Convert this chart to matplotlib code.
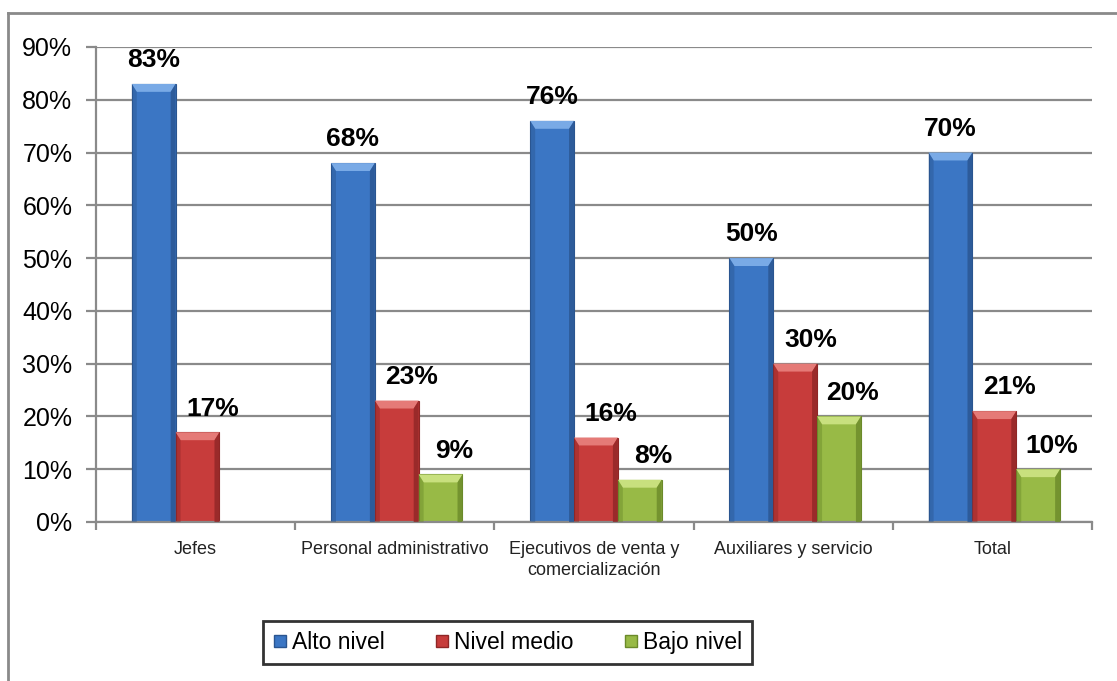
import numpy as np
import matplotlib
matplotlib.use('Agg')
import matplotlib.pyplot as plt
from matplotlib.patches import Polygon
from matplotlib.lines import Line2D

# niveles por grupo de cargo
categorias = ['Jefes', 'Personal administrativo',
              'Ejecutivos de venta y\ncomercialización',
              'Auxiliares y servicio', 'Total']
series = ['Alto nivel', 'Nivel medio', 'Bajo nivel']
alto = [83, 68, 76, 50, 70]
medio = [17, 23, 16, 30, 21]
bajo = [np.nan, 9, 8, 20, 10]
yticks = [0, 10, 20, 30, 40, 50, 60, 70, 80, 90]

# colores: cuerpo, bisel claro, borde oscuro
colores = {
    'Alto nivel': ('#3b76c4', '#79aae6', '#2a5590'),
    'Nivel medio': ('#c73c3b', '#e57a77', '#8f2626'),
    'Bajo nivel': ('#98ba46', '#c8e07e', '#6b8a2a'),
}
desp_etiqueta = {'Alto nivel': 0, 'Nivel medio': 11, 'Bajo nivel': 10}

plt.rcParams['font.family'] = ['Liberation Sans', 'DejaVu Sans']

fig = plt.figure(figsize=(11.17, 6.81), dpi=100)
ax = fig.add_axes([0.0859, 0.2335, 0.8917, 0.6975])

x = np.arange(len(categorias))
ancho = 0.22
gris = '#8a8a8a'


def bisel(ax, barra, c_claro, c_oscuro):
    # caras del bisel a partir del rectangulo de la barra
    x0 = barra.get_x()
    w = barra.get_width()
    h = barra.get_height()
    if not np.isfinite(h) or h <= 0:
        return
    dx = 0.025
    dy = min(1.5, h / 4)
    x1 = x0 + w
    arriba = Polygon([(x0, h), (x1, h), (x1 - dx, h - dy), (x0 + dx, h - dy)],
                     closed=True, facecolor=c_claro, edgecolor='none', zorder=3)
    izq = Polygon([(x0, 0), (x0, h), (x0 + dx, h - dy), (x0 + dx, 0)],
                  closed=True, facecolor=c_oscuro, edgecolor='none', alpha=0.45, zorder=3)
    der = Polygon([(x1, 0), (x1, h), (x1 - dx, h - dy), (x1 - dx, 0)],
                  closed=True, facecolor=c_oscuro, edgecolor='none', alpha=0.8, zorder=3)
    ax.add_patch(arriba)
    ax.add_patch(izq)
    ax.add_patch(der)


for k, (nombre, valores) in enumerate(zip(series, [alto, medio, bajo])):
    cuerpo, claro, oscuro = colores[nombre]
    barras = ax.bar(x + (k - 1) * ancho + 0.01, valores, ancho, color=cuerpo,
                    edgecolor=oscuro, linewidth=0.8, zorder=2, label=nombre)
    for b, v in zip(barras, valores):
        bisel(ax, b, claro, oscuro)
        if np.isfinite(v):
            ax.annotate(f'{v:.0f}%', (b.get_x() + b.get_width() / 2, v),
                        xytext=(desp_etiqueta[nombre], 12), textcoords='offset points',
                        ha='center', va='baseline', fontsize=19, fontweight='bold',
                        zorder=5)

ax.set_xlim(-0.5, len(categorias) - 0.5)
ax.set_ylim(0, 90)
ax.set_yticks(yticks)
ax.set_yticklabels([f'{t}%' for t in yticks], fontsize=18)
ax.yaxis.grid(True, color=gris, linewidth=1.6, zorder=0)
ax.set_axisbelow(True)

ax.set_xticks(x)
ax.set_xticklabels(categorias, fontsize=13, color='#222222', linespacing=1.3)
ax.set_xticks(np.arange(len(categorias) + 1) - 0.5, minor=True)
ax.tick_params(axis='x', which='major', length=0, pad=14)
ax.tick_params(axis='x', which='minor', length=6, width=1.6, color=gris, direction='out')
ax.tick_params(axis='y', length=7, width=1.6, color=gris, direction='out', pad=10)

for lado in ['top', 'right']:
    ax.spines[lado].set_visible(False)
for lado in ['left', 'bottom']:
    ax.spines[lado].set_color(gris)
    ax.spines[lado].set_linewidth(1.6)

# leyenda con marco negro
marcadores = [Line2D([0], [0], marker='s', linestyle='none', markersize=8,
                     markerfacecolor=colores[s][0], markeredgecolor=colores[s][2])
              for s in series]
leg = fig.legend(marcadores, series, loc='center',
                 bbox_to_anchor=(263 / 1117, 1 - 667 / 681, 489 / 1117, 49 / 681),
                 mode='expand', ncol=3, fontsize=16.5, frameon=True, fancybox=False,
                 handlelength=0.6, handletextpad=0.2, columnspacing=1.5,
                 borderpad=0.45, borderaxespad=0)
leg.get_frame().set_edgecolor('black')
leg.get_frame().set_linewidth(2)

# marco exterior del grafico
fig.add_artist(Line2D([0.0072, 0.0072], [0.0, 0.981], transform=fig.transFigure,
                      color=gris, linewidth=2))
fig.add_artist(Line2D([0.0072, 1.0], [0.981, 0.981], transform=fig.transFigure,
                      color=gris, linewidth=2))

fig.savefig('out.png', dpi=100, facecolor='white')
